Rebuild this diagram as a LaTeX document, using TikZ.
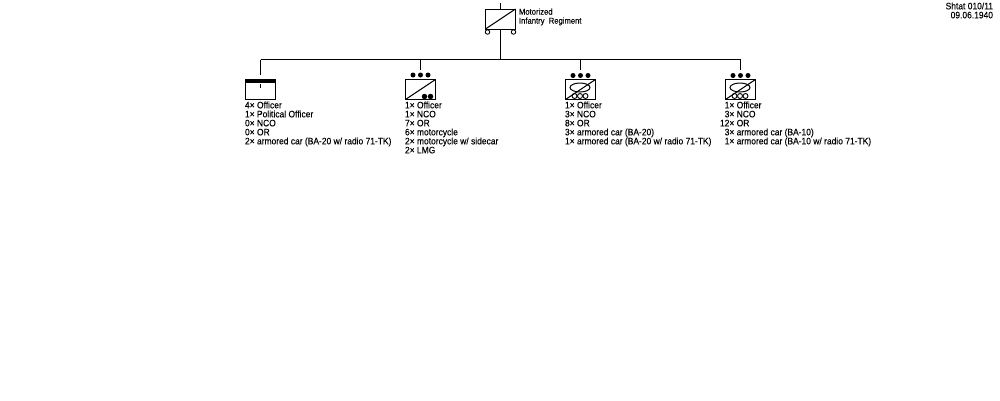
\documentclass[tikz,border=0pt]{standalone}
\usepackage{fontspec}
\setmainfont[FakeStretch=0.9,FakeBold=0.12]{Liberation Sans}
\usetikzlibrary{calc}
\tikzset{
  x=1pt,y=-1pt,
  line/.style={draw=black,line width=1pt},
  unitbox/.style={draw=black,line width=1pt,fill=white,minimum width=30pt,minimum height=20pt,inner sep=0pt,outer sep=0pt},
  lbl/.style={anchor=north west,align=left,inner sep=0pt,outer sep=0pt,font=\fontsize{9.4}{9}\selectfont,text=black},
  dot/.style={circle,fill=black,draw=none,minimum size=5pt,inner sep=0pt},
  wheel/.style={circle,draw=black,line width=.9pt,fill=white,minimum size=5pt,inner sep=0pt},
}
\newcommand{\tanksym}[1]{%
  \node[dot] (#1d1) at ($(#1.north)+(-7.5,-4)$) {};
  \node[dot] (#1d2) at ($(#1.north)+(0,-4)$) {};
  \node[dot] (#1d3) at ($(#1.north)+(7.5,-4)$) {};
  \draw[line] ($(#1)+(-0.5,-2)$) ellipse [x radius=10,y radius=4.5];
  \node[wheel] (#1w1) at ($(#1)+(-6,6.5)$) {};
  \node[wheel] (#1w2) at ($(#1)+(-0.5,6.5)$) {};
  \node[wheel] (#1w3) at ($(#1)+(5,6.5)$) {};
  \draw[line] (#1.south west) -- (#1.north east);
}
\begin{document}
\begin{tikzpicture}
\useasboundingbox[fill=white] (0,0) rectangle (1000,400);
% top
\node[unitbox] (reg) at (500.5,19) {};
\coordinate (regtop) at (500.5,3);
\draw[line] (regtop) -- (reg.north);
\draw[line] (reg.south west) -- (reg.north east);
\node[circle,draw=black,line width=.9pt,minimum size=4.5pt,inner sep=0pt] (regl) at (487.5,32) {};
\node[circle,draw=black,line width=.9pt,minimum size=4.5pt,inner sep=0pt] (regr) at (513.5,32) {};
\node[lbl,font=\fontsize{8.5}{9}\selectfont] (reglabel) at (519,8.5) {Motorized\\Infantry\ \ Regiment};
\node[lbl,anchor=north east,align=right] (shtat) at (993,2.5) {Shtat 010/11\\09.06.1940};
% bar
\coordinate (bus) at (500.5,59.5);
\coordinate (b1) at (260.5,59.5);
\coordinate (b2) at (420.5,59.5);
\coordinate (b3) at (580.5,59.5);
\coordinate (b4) at (740.5,59.5);
\draw[line] (reg.south) -- (bus);
\draw[line] (b1) -- (b4);
% units
\node[unitbox] (u1) at (260.5,89.5) {};
\node[unitbox] (u2) at (420.5,89.5) {};
\node[unitbox] (u3) at (580.5,89.5) {};
\node[unitbox] (u4) at (740.5,89.5) {};
\coordinate (t1) at (260.5,75);
\coordinate (t2) at (420.5,70);
\coordinate (t3) at (580.5,70);
\coordinate (t4) at (740.5,70);
\draw[line] (b1) -- (t1);
\draw[line] (b2) -- (t2);
\draw[line] (b3) -- (t3);
\draw[line] (b4) -- (t4);
% HQ
\fill[black] (u1.north west) rectangle ($(u1.north east)+(0,3.5)$);
\coordinate (hq1) at (260.5,84);
\coordinate (hq2) at (260.5,88);
\draw[line] (hq1) -- (hq2);
% motorcycle
\node[dot] (m1) at (413,75) {};
\node[dot] (m2) at (420.5,75) {};
\node[dot] (m3) at (428,75) {};
\draw[line] (u2.south west) -- (u2.north east);
\node[dot,minimum size=5.5pt] (m4) at (424.5,96.5) {};
\node[dot,minimum size=5.5pt] (m5) at (430.5,96.5) {};
% armored
\tanksym{u3}
\tanksym{u4}
% text
\node[lbl] (x1) at (245,101.5) {4× Officer\\1× Political Officer\\0× NCO\\0× OR\\2× armored car (BA-20 w/ radio 71-TK)};
\node[lbl] (x2) at (405,101.5) {1× Officer\\1× NCO\\7× OR\\6× motorcycle\\2× motorcycle w/ sidecar\\2× LMG};
\node[lbl] (x3) at (565,101.5) {1× Officer\\3× NCO\\8× OR\\3× armored car (BA-20)\\1× armored car (BA-20 w/ radio 71-TK)};
\node[lbl] (x4) at (720,101.5) {\hphantom{1}1× Officer\\\hphantom{1}3× NCO\\12× OR\\\hphantom{1}3× armored car (BA-10)\\\hphantom{1}1× armored car (BA-10 w/ radio 71-TK)};
\end{tikzpicture}
\end{document}
